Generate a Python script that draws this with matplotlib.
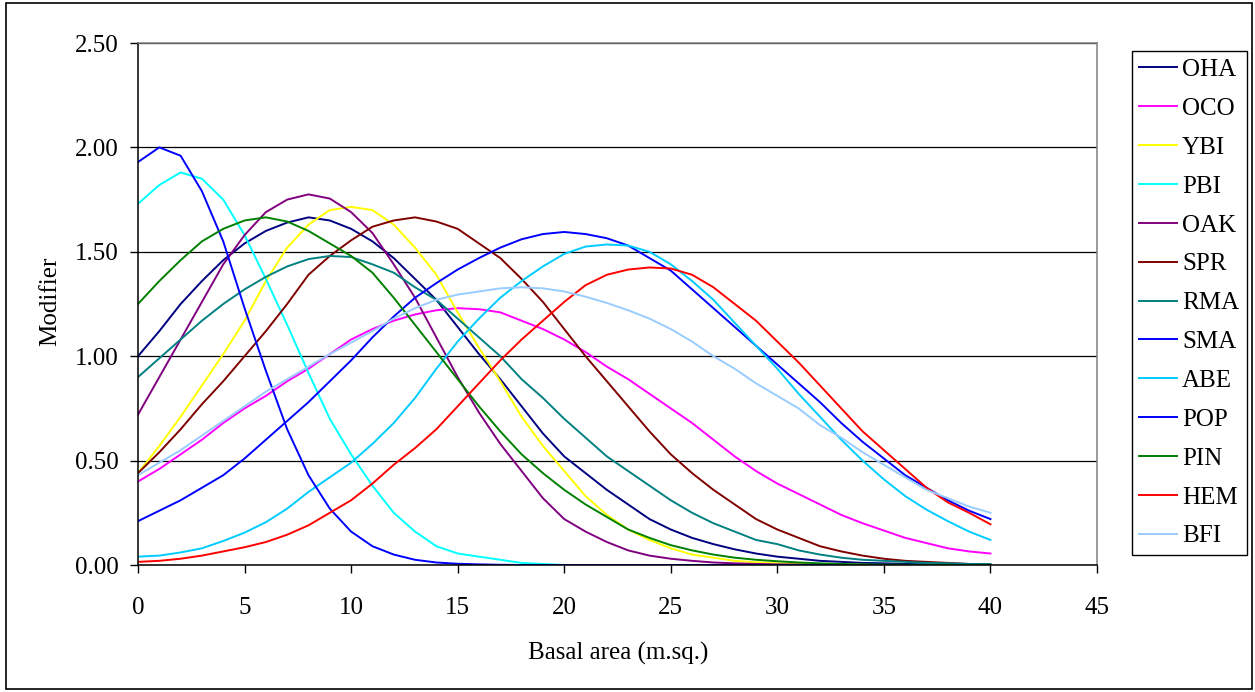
import matplotlib
matplotlib.use("Agg")
import matplotlib.pyplot as plt
from matplotlib.patches import Rectangle

plt.rcParams['font.family'] = ['Liberation Serif', 'DejaVu Serif']

# Basal area (x) and modifier values for each species
basal_area = list(range(0, 41))

oha = [1.00, 1.12, 1.25, 1.36, 1.46, 1.54, 1.60, 1.64, 1.665, 1.65, 1.61,
       1.55, 1.47, 1.37, 1.27, 1.14, 1.01, 0.89, 0.76, 0.63, 0.52,
       0.44, 0.36, 0.29, 0.22, 0.17, 0.13, 0.10, 0.075, 0.055, 0.04,
       0.03, 0.02, 0.015, 0.01, 0.008, 0.005, 0.003, 0.002, 0.001, 0.0]
oco = [0.40, 0.46, 0.53, 0.60, 0.68, 0.75, 0.81, 0.88, 0.94, 1.01, 1.08,
       1.13, 1.17, 1.20, 1.22, 1.23, 1.225, 1.21, 1.17, 1.13, 1.08,
       1.02, 0.95, 0.89, 0.82, 0.75, 0.68, 0.60, 0.52, 0.45, 0.39,
       0.34, 0.29, 0.24, 0.20, 0.165, 0.13, 0.105, 0.08, 0.065, 0.055]
ybi = [0.44, 0.57, 0.71, 0.86, 1.01, 1.17, 1.36, 1.52, 1.63, 1.70, 1.715,
       1.70, 1.63, 1.52, 1.39, 1.21, 1.04, 0.88, 0.71, 0.57, 0.45,
       0.33, 0.24, 0.17, 0.12, 0.08, 0.05, 0.035, 0.02, 0.013, 0.008,
       0.005, 0.003, 0.002, 0.001, 0.0, 0.0, 0.0, 0.0, 0.0, 0.0]
pbi = [1.73, 1.82, 1.88, 1.85, 1.75, 1.58, 1.37, 1.15, 0.92, 0.70, 0.53,
       0.38, 0.25, 0.16, 0.09, 0.055, 0.04, 0.025, 0.01, 0.005, 0.0,
       0.0, 0.0, 0.0, 0.0, 0.0, 0.0, 0.0, 0.0, 0.0, 0.0,
       0.0, 0.0, 0.0, 0.0, 0.0, 0.0, 0.0, 0.0, 0.0, 0.0]
oak = [0.72, 0.90, 1.08, 1.26, 1.44, 1.58, 1.69, 1.75, 1.775, 1.755, 1.69,
       1.59, 1.44, 1.28, 1.09, 0.90, 0.73, 0.58, 0.45, 0.32, 0.22,
       0.16, 0.11, 0.07, 0.045, 0.03, 0.02, 0.012, 0.008, 0.005, 0.003,
       0.002, 0.001, 0.0, 0.0, 0.0, 0.0, 0.0, 0.0, 0.0, 0.0]
spr = [0.44, 0.54, 0.65, 0.77, 0.88, 1.00, 1.12, 1.25, 1.39, 1.48, 1.555,
       1.62, 1.65, 1.665, 1.645, 1.61, 1.54, 1.47, 1.37, 1.26, 1.13,
       1.00, 0.88, 0.76, 0.64, 0.53, 0.44, 0.36, 0.29, 0.22, 0.17,
       0.13, 0.09, 0.065, 0.045, 0.03, 0.02, 0.015, 0.01, 0.005, 0.003]
rma = [0.90, 0.99, 1.08, 1.17, 1.25, 1.32, 1.38, 1.43, 1.465, 1.48, 1.475,
       1.44, 1.40, 1.33, 1.27, 1.18, 1.09, 1.00, 0.89, 0.80, 0.70,
       0.61, 0.52, 0.45, 0.38, 0.31, 0.25, 0.20, 0.16, 0.12, 0.10,
       0.07, 0.05, 0.035, 0.025, 0.02, 0.015, 0.01, 0.008, 0.005, 0.004]
sma = [0.21, 0.26, 0.31, 0.37, 0.43, 0.51, 0.60, 0.69, 0.78, 0.88, 0.98,
       1.09, 1.19, 1.28, 1.35, 1.415, 1.47, 1.52, 1.56, 1.585, 1.595,
       1.585, 1.565, 1.53, 1.47, 1.41, 1.32, 1.23, 1.14, 1.05, 0.96,
       0.87, 0.78, 0.68, 0.59, 0.51, 0.43, 0.37, 0.31, 0.26, 0.22]
abe = [0.04, 0.045, 0.06, 0.08, 0.115, 0.155, 0.205, 0.27, 0.35, 0.42, 0.49,
       0.58, 0.68, 0.80, 0.94, 1.07, 1.18, 1.28, 1.36, 1.43, 1.49,
       1.525, 1.535, 1.53, 1.50, 1.44, 1.36, 1.27, 1.16, 1.05, 0.94,
       0.82, 0.71, 0.60, 0.50, 0.41, 0.33, 0.265, 0.21, 0.16, 0.12]
pop = [1.93, 2.00, 1.96, 1.79, 1.55, 1.23, 0.93, 0.65, 0.43, 0.27, 0.16,
       0.09, 0.05, 0.025, 0.012, 0.006, 0.003, 0.001, 0.0, 0.0, 0.0,
       0.0, 0.0, 0.0, 0.0, 0.0, 0.0, 0.0, 0.0, 0.0, 0.0,
       0.0, 0.0, 0.0, 0.0, 0.0, 0.0, 0.0, 0.0, 0.0, 0.0]
pin = [1.25, 1.36, 1.46, 1.55, 1.61, 1.65, 1.665, 1.645, 1.60, 1.54, 1.48,
       1.40, 1.28, 1.15, 1.02, 0.89, 0.76, 0.64, 0.53, 0.44, 0.36,
       0.29, 0.23, 0.17, 0.13, 0.095, 0.07, 0.05, 0.035, 0.025, 0.018,
       0.012, 0.008, 0.005, 0.003, 0.002, 0.001, 0.0, 0.0, 0.0, 0.0]
hem = [0.015, 0.02, 0.03, 0.045, 0.065, 0.085, 0.11, 0.145, 0.19, 0.25, 0.31,
       0.39, 0.48, 0.56, 0.65, 0.76, 0.87, 0.98, 1.08, 1.17, 1.26,
       1.34, 1.39, 1.415, 1.425, 1.42, 1.39, 1.33, 1.25, 1.17, 1.07,
       0.97, 0.86, 0.75, 0.64, 0.55, 0.46, 0.37, 0.30, 0.25, 0.195]
bfi = [0.43, 0.49, 0.55, 0.62, 0.69, 0.76, 0.83, 0.89, 0.95, 1.01, 1.065,
       1.12, 1.18, 1.23, 1.27, 1.295, 1.31, 1.325, 1.33, 1.325, 1.31,
       1.285, 1.255, 1.22, 1.18, 1.13, 1.07, 1.00, 0.94, 0.87, 0.81,
       0.75, 0.67, 0.61, 0.54, 0.48, 0.42, 0.36, 0.32, 0.28, 0.25]

species = ['OHA', 'OCO', 'YBI', 'PBI', 'OAK', 'SPR', 'RMA',
           'SMA', 'ABE', 'POP', 'PIN', 'HEM', 'BFI']
series = [oha, oco, ybi, pbi, oak, spr, rma, sma, abe, pop, pin, hem, bfi]
colors = ['#000080', '#FF00FF', '#FFFF00', '#00FFFF', '#800080', '#800000',
          '#008080', '#0000FF', '#00CCFF', '#0000FF', '#008000', '#FF0000',
          '#99CCFF']

xticks = [0, 5, 10, 15, 20, 25, 30, 35, 40, 45]
yticks = [0.0, 0.5, 1.0, 1.5, 2.0, 2.5]

W, H = 1255, 692
fig = plt.figure(figsize=(W / 100, H / 100), dpi=100)

# plot area in pixels: x 138..1097, y 43..565
ax = fig.add_axes([138 / W, 1 - 565 / H, (1097 - 138) / W, (565 - 43) / H])

for name, vals, col in zip(species, series, colors):
    ax.plot(basal_area, vals, color=col, lw=1.4, label=name)

ax.set_xlim(0, 45)
ax.set_ylim(0, 2.5)
ax.set_xticks(xticks)
ax.set_xticklabels([str(t) for t in xticks])
ax.set_yticks(yticks)
ax.set_yticklabels(['%.2f' % t for t in yticks])

ax.yaxis.grid(True, color='black', lw=0.9)
ax.set_axisbelow(True)

ax.tick_params(axis='x', direction='out', length=6, width=1, pad=17, labelsize=18)
ax.tick_params(axis='y', direction='out', length=6, width=1, pad=8, labelsize=18)

for side in ['left', 'bottom']:
    ax.spines[side].set_color('black')
    ax.spines[side].set_linewidth(1.1)
for side in ['top', 'right']:
    ax.spines[side].set_color('#808080')
    ax.spines[side].set_linewidth(1.1)

fig.text(50 / W, 1 - 301 / H, 'Modifier', rotation=90, ha='center', va='center', fontsize=18)
fig.text(618.5 / W, 1 - 653 / H, 'Basal area (m.sq.)', ha='center', va='center', fontsize=18)

leg = ax.legend(loc='upper left', bbox_to_anchor=(1131.5 / W, 1 - 51 / H),
                bbox_transform=fig.transFigure, borderaxespad=0,
                fontsize=18, frameon=True, fancybox=False, framealpha=1,
                handlelength=1.5, handletextpad=0.22, borderpad=0.3,
                labelspacing=0.655)
leg.get_frame().set_edgecolor('black')
leg.get_frame().set_linewidth(1.0)
for line in leg.get_lines():
    line.set_linewidth(1.4)

# outer chart border
fig.patches.append(Rectangle((6 / W, 1 - 689 / H), (1252 - 6) / W, (689 - 3) / H,
                             transform=fig.transFigure, fill=False,
                             edgecolor='black', lw=1.2))

fig.savefig('out.png', dpi=100)
